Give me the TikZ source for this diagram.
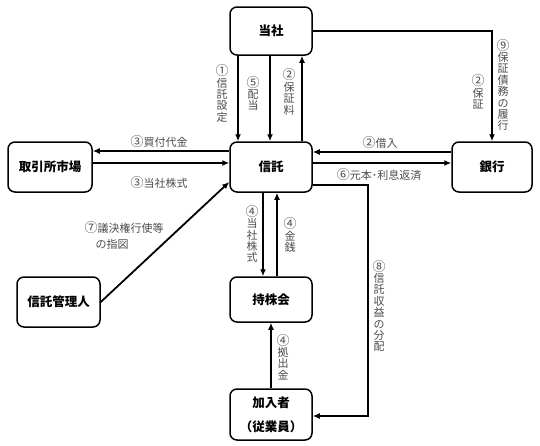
\documentclass[tikz,border=0pt]{standalone}
\usepackage{fontspec}
\setmainfont{Noto Sans CJK JP}
\usetikzlibrary{arrows.meta}
\newcommand{\cnm}[1]{{\fontsize{13}{11.4}\selectfont #1}}
\tikzset{
  box/.style={draw, line width=1.5pt, rounded corners=7pt, minimum width=82pt, minimum height=50pt,
    font=\fontsize{12.5}{24}\selectfont\bfseries, align=center, inner sep=0pt},
  arr/.style={line width=1.8pt, -{Latex[length=7pt,width=6pt]}},
  lab/.style={font=\fontsize{11}{11.4}\selectfont, text=black!70, align=center, inner sep=0pt},
}
\begin{document}
\begin{tikzpicture}[x=1pt,y=-1pt]
\useasboundingbox (0,0) rectangle (540,445);
% boxes
\node[box] (tosha) at (271,31) [minimum height=48pt] {当社};
\node[box] (shintaku) at (271,167) {信託};
\node[box, minimum width=84pt] (torihiki) at (50,167) {取引所市場};
\node[box, minimum width=80pt] (ginko) at (492,167) {銀行};
\node[box, minimum width=83pt] (kanri) at (58.5,302) {信託管理人};
\node[box, minimum height=45pt] (mochikabu) at (271,299.5) {持株会};
\node[box, minimum height=51pt] (kanyu) at (271,414.5) {加入者\\（従業員）};
% connectors tosha - shintaku
\draw[arr] ([xshift=-33pt]tosha.south) -- ([xshift=-33pt]shintaku.north);
\draw[arr] ([xshift=-1pt]tosha.south) -- ([xshift=-1pt]shintaku.north);
\draw[arr] ([xshift=31pt]shintaku.north) -- ([xshift=31pt]tosha.south);
% torihiki
\draw[arr] ([yshift=16pt]shintaku.west) -- ([yshift=16pt]torihiki.east);
\draw[arr] ([yshift=4pt]torihiki.east) -- ([yshift=4pt]shintaku.west);
% ginko
\draw[arr] ([yshift=15pt]ginko.west) -- ([yshift=15pt]shintaku.east);
\draw[arr] ([yshift=4pt]shintaku.east) -- ([yshift=4pt]ginko.west);
% tosha -> ginko
\draw[arr] (tosha.east) -| (ginko.north);
% shintaku <-> mochikabu
\draw[arr] ([xshift=-8pt]shintaku.south) -- ([xshift=-8pt]mochikabu.north);
\draw[arr] ([xshift=6pt]mochikabu.north) -- ([xshift=6pt]shintaku.south);
% kanyu -> mochikabu
\draw[arr] (kanyu.north) -- (mochikabu.south);
% 8
\draw[arr] ([yshift=-18pt]shintaku.east) -- ++(55,0) |- ([yshift=-1.5pt]kanyu.east);
% kanri -> shintaku
\draw[arr] (kanri.east) -- ([yshift=-15pt]shintaku.west);
% labels
\node[lab] (l1) at (222,93.5) {\cnm{①}\\信\\託\\設\\定};
\node[lab] (l5) at (253,93.5) {\cnm{⑤}\\配\\当};
\node[lab] (l2a) at (289,92) {\cnm{②}\\保\\証\\料};
\node[lab] (l3a) at (159,142) {\cnm{③}買付代金};
\node[lab] (l3b) at (159,183) {\cnm{③}当社株式};
\node[lab] (l2b) at (380,143) {\cnm{②}借入};
\node[lab] (l6) at (379,175) {\cnm{⑥}元本･利息返済};
\node[lab, align=left, font=\fontsize{11}{16}\selectfont] (l7) at (124,235) {\cnm{⑦}議決権行使等\\\hspace{1em}の指図};
\node[lab] (l4a) at (252,234) {\cnm{④}\\当\\社\\株\\式};
\node[lab] (l4b) at (290,235) {\cnm{④}\\金\\銭};
\node[lab] (l4c) at (283,357) {\cnm{④}\\拠\\出\\金};
\node[lab] (l8) at (379,306) {\cnm{⑧}\\信\\託\\収\\益\\の\\分\\配};
\node[lab] (l2c) at (478,92) {\cnm{②}\\保\\証};
\node[lab] (l9) at (503,85) {\cnm{⑨}\\保\\証\\債\\務\\の\\履\\行};
\end{tikzpicture}
\end{document}
